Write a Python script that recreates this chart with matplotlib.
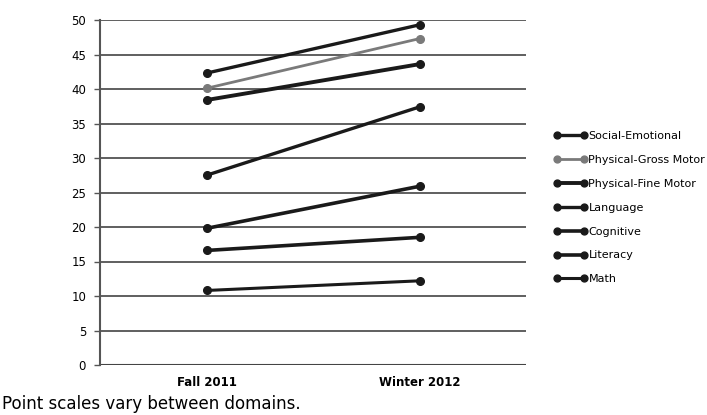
import matplotlib
matplotlib.use("Agg")
import matplotlib.pyplot as plt

periods = ["Fall 2011", "Winter 2012"]
domains = ["Social-Emotional", "Physical-Gross Motor", "Physical-Fine Motor",
           "Language", "Cognitive", "Literacy", "Math"]
fall = [42.3, 40.1, 38.4, 27.5, 19.8, 16.6, 10.8]
winter = [49.3, 47.3, 43.6, 37.4, 25.9, 18.5, 12.2]
colors = ["#1a1a1a", "#7a7a7a", "#1a1a1a", "#1a1a1a", "#1a1a1a", "#1a1a1a", "#1a1a1a"]
widths = [2.4, 2.0, 2.8, 2.4, 2.6, 2.6, 2.2]
yticks = [0, 5, 10, 15, 20, 25, 30, 35, 40, 45, 50]

fig = plt.figure(figsize=(7.07, 4.15), dpi=100)
ax = fig.add_axes([100/707, 1-365/415, 426/707, 345/415])

xs = [0.5, 1.5]
for name, f, w, c, lw in zip(domains, fall, winter, colors, widths):
    ax.plot(xs, [f, w], color=c, lw=lw, marker="o", markersize=5.5,
            markerfacecolor=c, markeredgecolor=c, label=name, zorder=3)

ax.set_xlim(0, 2)
ax.set_ylim(0, 50)
ax.set_yticks(yticks)
ax.set_xticks(xs)
ax.set_xticklabels(periods, fontweight="bold", fontsize=8.5)
ax.tick_params(axis="x", length=0, pad=8)
ax.tick_params(axis="y", length=4, width=1, color="#555555", labelsize=8.5, pad=6)
ax.grid(axis="y", color="#444444", lw=1.2, zorder=1)
for s in ["top", "right", "bottom"]:
    ax.spines[s].set_visible(False)
ax.spines["left"].set_color("#555555")
ax.spines["left"].set_linewidth(1.5)
ax.axhline(0, color="#444444", lw=1.5, zorder=2)

leg = ax.legend(loc="upper left", bbox_to_anchor=(544/707, 1-121/415),
                bbox_transform=fig.transFigure, frameon=False, numpoints=2,
                handlelength=3.0, handletextpad=0.1, labelspacing=1.25,
                fontsize=8, markerscale=0.9)

fig.text(2/707, 1-404/415, "Point scales vary between domains.", fontsize=12,
         ha="left", va="center")

fig.savefig("out.png", dpi=100, facecolor="white")
